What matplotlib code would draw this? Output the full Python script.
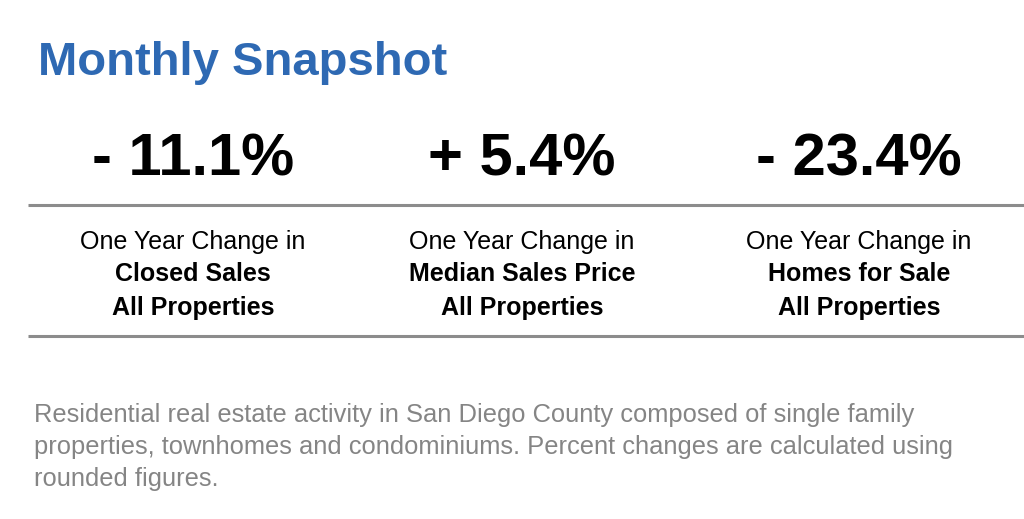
import matplotlib.pyplot as plt

TITLE = 'Monthly Snapshot'
changes = ['- 11.1%', '+ 5.4%', '- 23.4%']
metrics = ['Closed Sales', 'Median Sales Price', 'Homes for Sale']
scope = 'All Properties'
lead = 'One Year Change in'
footnote = ['Residential real estate activity in San Diego County composed of single family',
            'properties, townhomes and condominiums. Percent changes are calculated using',
            'rounded figures.']

W, H = 1024, 519
col_x = [193, 522, 859]

fig = plt.figure(figsize=(W / 100, H / 100), dpi=100)
ax = fig.add_axes([0, 0, 1, 1])
ax.set_xlim(0, W)
ax.set_ylim(H, 0)
ax.axis('off')

# title (reference uses a condensed face; closest available is plain bold)
ax.text(38, 75, TITLE, fontsize=34, fontweight='bold', color='#2e69b3',
        family='Liberation Sans', va='baseline', ha='left')

for x, ch, m in zip(col_x, changes, metrics):
    ax.text(x, 175, ch, fontsize=43, fontweight='bold', color='black',
            family='Liberation Sans', ha='center', va='baseline')
    ax.text(x, 249, lead, fontsize=18, color='black',
            family='Liberation Sans', ha='center', va='baseline')
    ax.text(x, 281, m, fontsize=18, fontweight='bold', color='black',
            family='Liberation Sans', ha='center', va='baseline')
    ax.text(x, 315, scope, fontsize=18, fontweight='bold', color='black',
            family='Liberation Sans', ha='center', va='baseline')

for y in (204.5, 336):
    ax.plot([28, W], [y, y], color='#8c8c8c', linewidth=2.2, solid_capstyle='butt')

for i, line in enumerate(footnote):
    ax.text(34, 422 + 32 * i, line, fontsize=18.4, color='#858585',
            family='Liberation Sans', ha='left', va='baseline')

fig.savefig('out.png', dpi=100, facecolor='white')
